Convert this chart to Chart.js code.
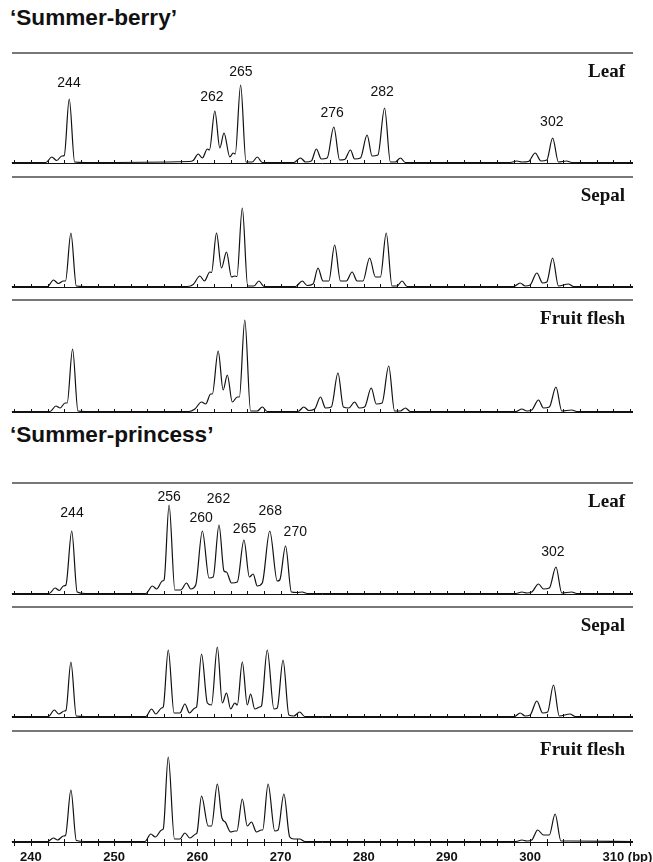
<!DOCTYPE html>
<html><head><meta charset="utf-8">
<script src="https://cdn.jsdelivr.net/npm/chart.js@4.4.1/dist/chart.umd.min.js"></script>
<style>
html,body{margin:0;padding:0;background:#fff;}
#wrap{position:relative;width:653px;height:862px;overflow:hidden;background:#fff;}
.title{position:absolute;left:10px;font:bold 22.6px "Liberation Sans",Arial,sans-serif;color:#111;line-height:26px;white-space:nowrap;}
canvas{position:absolute;left:0;}
</style></head><body>
<div id="wrap">
<div class="title" style="top:5px">‘Summer-berry’</div>
<div class="title" style="top:422px">‘Summer-princess’</div>
</div>
<script>
// ---- data: [size (bp), signal] ----
const berryLeaf = [[237.7,0.5],[241.8,0.5],[242.5,6],[243.1,2.5],[243.7,7],[244.0,7.5],[244.6,64],[245.25,1],[246.5,0.5],
 [259.0,1.5],[259.5,2.5],[260.1,9],[260.6,5],[261.2,14],[261.45,13],[262.1,52],[262.7,15],[263.2,30],[263.9,6],[264.3,10],[264.55,9],[265.2,78],[265.85,1],[266.6,1],[267.2,6],[267.8,0.5],
 [271.6,0.5],[272.4,5],[273.0,1],[273.7,2],[274.3,14],[274.9,4],[275.6,5],[276.4,36],[277.1,3],[277.7,3.5],[278.4,13],[278.9,4],[279.6,5],[280.4,28],[281.0,7],[281.7,8],[282.5,55],[283.2,1],[283.8,1],[284.4,5],[285.0,0.5],
 [297.6,0.5],[298.4,2],[299.0,1],[299.8,1.5],[300.6,10],[301.3,2],[302.0,3],[302.7,25],[303.4,1],[304.4,2],[305.0,0.5],[312.36,0.5]];
const berrySepal = [[237.7,0.5],[242.0,0.5],[242.7,7],[243.3,3.5],[243.9,6],[244.15,6],[244.8,54],[245.45,1],[246.5,0.5],
 [258.8,0.5],[259.5,2.5],[260.3,11],[260.85,6],[261.5,15],[261.7,14.5],[262.3,54],[262.9,19],[263.5,35],[264.1,10],[264.5,11],[264.75,10.5],[265.4,79],[266.05,1],[266.8,1],[267.4,6],[268.0,0.5],
 [271.8,0.5],[272.6,6],[273.2,1.5],[273.9,3],[274.5,19],[275.1,6],[275.8,6],[276.5,42],[277.2,6],[277.9,6],[278.6,15],[279.2,6],[279.9,6],[280.7,29],[281.4,10],[282.0,10],[282.7,54],[283.4,1],[284.0,1],[284.6,6],[285.2,0.5],
 [298.0,0.5],[298.8,4],[299.4,1],[300.0,2],[300.8,14],[301.5,4],[302.0,5],[302.7,29],[303.4,1],[304.6,3],[305.2,0.5],[312.36,0.5]];
const berryFruit = [[237.7,0.5],[242.3,0.5],[243.0,6],[243.5,4],[244.1,9],[244.35,9],[245.0,63],[245.65,1],[246.5,0.5],
 [259.0,0.5],[259.7,3],[260.5,10],[261.0,8],[261.6,18],[261.8,18],[262.5,61],[263.1,22],[263.6,37],[264.2,10],[264.8,15],[265.05,15],[265.7,92],[266.4,1],[267.2,1],[267.8,5],[268.4,0.5],
 [272.1,0.5],[272.8,5],[273.4,1.5],[274.1,3],[274.8,15],[275.4,4],[276.1,5],[276.9,39],[277.55,5],[278.2,4],[278.9,10],[279.45,4],[280.1,5],[280.9,24],[281.5,8],[282.2,9],[283.0,46],[283.7,1],[284.4,1],[285.0,4],[285.6,0.5],
 [298.3,0.5],[299.0,3],[299.6,1],[300.2,2],[301.0,12],[301.6,4],[302.3,5],[303.1,25],[303.8,1],[305.0,2],[305.6,0.5],[312.36,0.5]];
const princessLeaf = [[237.7,0.5],[242.2,0.5],[242.9,6],[243.4,3.5],[243.9,8],[244.2,9],[244.9,63],[245.55,2],[246.5,0.5],
 [253.8,0.5],[254.6,8],[255.1,5],[255.8,13],[256.0,14],[256.6,89],[257.3,4],[258.0,4],[258.7,11],[259.2,5],[259.8,9],[260.6,63],[261.4,16],[261.9,17],[262.6,69],[263.2,23],[263.5,22],[264.1,11],[264.8,12],[265.6,54],[266.25,17],[266.7,20],[267.2,8],[267.8,11],[268.7,63],[269.6,13],[269.9,14],[270.6,48],[271.3,2],[272.0,1.5],[272.6,2],[273.2,0.5],
 [298.3,0.5],[299.0,2],[299.6,1],[300.2,2],[301.0,10],[301.6,5],[302.3,6],[303.1,27],[303.8,1],[305.0,2],[305.6,0.5],[312.36,0.5]];
const princessSepal = [[237.7,0.5],[242.1,0.5],[242.8,7],[243.35,3],[244.0,6],[244.2,6.5],[244.8,55],[245.45,1],[246.5,0.5],
 [253.8,0.5],[254.5,8],[255.0,3],[255.7,9],[255.9,10],[256.5,67],[257.2,4],[257.9,4],[258.5,13],[259.05,4],[259.7,9],[259.9,10],[260.5,63],[261.2,14],[261.7,12],[262.4,70],[263.0,14],[263.5,24],[264.0,8],[264.5,14],[264.8,12],[265.4,55],[266.0,12],[266.4,23],[266.9,8],[267.5,10],[267.7,11],[268.4,67],[269.2,8],[269.6,9],[270.3,57],[271.0,2],[271.6,1],[272.3,5],[272.9,0.5],
 [298.1,0.5],[298.8,4],[299.4,1],[300.0,2],[300.8,16],[301.5,4],[302.1,5],[302.8,32],[303.5,1],[304.8,3],[305.4,0.5],[312.36,0.5]];
const princessFruit = [[237.7,0.5],[242.0,0.5],[242.7,4],[243.2,2],[243.9,6],[244.15,6.5],[244.8,52],[245.45,1.5],[246.5,0.5],
 [253.7,0.5],[254.4,8],[254.95,5],[255.7,12],[255.9,13],[256.5,85],[257.25,3],[257.9,3],[258.5,9],[259.1,4],[259.8,8],[259.95,9],[260.5,46],[261.3,16],[261.7,16],[262.4,58],[262.95,24],[263.35,20],[264.0,10],[264.5,11],[264.75,11],[265.4,43],[266.0,16],[266.5,20],[267.1,10],[267.7,12],[267.85,12],[268.5,58],[269.3,11],[269.7,12],[270.4,48],[271.1,5],[271.6,3],[272.3,3],[272.9,0.5],
 [298.3,0.5],[299.0,2],[299.6,1],[300.2,2],[300.9,12],[301.6,7],[302.3,7],[303.0,28],[303.7,1],[305.0,1],[312.36,0.5]];

// peak size labels: text, anchor size (bp), anchor signal
const berryLabels   = ['244','262','265','276','282','302'];
const berryLabelBp  = [244.57,261.75,265.23,276.2,282.2,302.6];
const berryLabelY   = [80,66,91,50,71,41];
const princessLabels  = ['244','256','260','262','265','268','270','302'];
const princessLabelBp = [244.93,256.6,260.46,262.54,265.67,268.76,271.77,302.73];
const princessLabelY  = [80.7,96.7,76.3,94.7,65,83.3,62.3,42.3];

const tissueNames = ['Leaf','Sepal','Fruit flesh'];
const axisTickLabels = [240,250,260,270,280,290,300,310];
const X_MIN = 237.72, X_MAX = 312.36;

const panels = [
 {top:53,  base:163, name:tissueNames[0], trace:berryLeaf, lab:berryLabels, labBp:berryLabelBp, labY:berryLabelY},
 {top:177, base:287, name:tissueNames[1], trace:berrySepal},
 {top:300, base:412, name:tissueNames[2], trace:berryFruit},
 {top:483, base:594, name:tissueNames[0], trace:princessLeaf, lab:princessLabels, labBp:princessLabelBp, labY:princessLabelY},
 {top:607, base:717, name:tissueNames[1], trace:princessSepal},
 {top:731, base:842, name:tissueNames[2], trace:princessFruit}
];

function deco(p, last){
  return {id:'deco', beforeDatasetsDraw(chart){
    const ctx = chart.ctx, a = chart.chartArea, x = chart.scales.x, y = chart.scales.y;
    ctx.save();
    // top rule
    ctx.strokeStyle = '#4a4a4a'; ctx.lineWidth = 1.4;
    ctx.beginPath(); ctx.moveTo(a.left, a.top); ctx.lineTo(a.right, a.top); ctx.stroke();
    // baseline
    const by = Math.round(y.getPixelForValue(0)) + 0.5;
    ctx.strokeStyle = '#111'; ctx.lineWidth = 1;
    ctx.beginPath(); ctx.moveTo(a.left, by); ctx.lineTo(a.right, by);
    for (let v = Math.ceil(x.min/2)*2; v <= x.max; v += 2){
      const px = Math.round(x.getPixelForValue(v)) + 0.5;
      ctx.moveTo(px, by - 3.5); ctx.lineTo(px, last ? by + 3.5 : by);
    }
    ctx.stroke();
    // tissue name
    ctx.fillStyle = '#111';
    ctx.font = 'bold 19px "Liberation Serif", "Times New Roman", serif';
    ctx.textAlign = 'right'; ctx.textBaseline = 'middle';
    ctx.fillText(p.name, 625, a.top + 19);
    // peak labels
    if (p.lab){
      ctx.font = '14px "Liberation Sans", Arial, sans-serif';
      ctx.textAlign = 'center';
      p.lab.forEach((t,i)=> ctx.fillText(t, x.getPixelForValue(p.labBp[i]), y.getPixelForValue(p.labY[i])));
    }
    // bottom axis labels
    if (last){
      ctx.font = 'bold 13px "Liberation Sans", Arial, sans-serif';
      ctx.textBaseline = 'middle';
      axisTickLabels.forEach((v,i)=>{
        const px = x.getPixelForValue(v);
        if (i === axisTickLabels.length-1){
          const w = ctx.measureText(String(v)).width;
          ctx.textAlign = 'left';
          ctx.fillText(v + ' (bp)', px - w/2, by + 14.5);
        } else {
          ctx.textAlign = 'center';
          ctx.fillText(String(v), px, by + 14.5);
        }
      });
    }
    ctx.restore();
  }};
}

const wrap = document.getElementById('wrap');
panels.forEach((p,i)=>{
  const last = i === panels.length - 1;
  const padTop = 4, padBottom = last ? 862 - p.base : 5;
  const h = (p.base - p.top) + padTop + padBottom;
  const cv = document.createElement('canvas');
  cv.width = 653; cv.height = h;
  cv.style.width = '653px'; cv.style.height = h + 'px'; cv.style.top = (p.top - padTop) + 'px';
  wrap.appendChild(cv);
  new Chart(cv, {
    type: 'line',
    data: {datasets: [{
      data: p.trace.map(d => ({x: d[0], y: d[1]})),
      borderColor: '#111', borderWidth: 1.2, pointRadius: 0, fill: false,
      cubicInterpolationMode: 'monotone', clip: 6
    }]},
    options: {
      responsive: false, devicePixelRatio: 1, animation: false, events: [],
      layout: {padding: {left: 12, right: 20, top: padTop, bottom: padBottom}},
      scales: {
        x: {type: 'linear', min: X_MIN, max: X_MAX, display: false},
        y: {min: 0, max: p.base - p.top, display: false}
      },
      plugins: {legend: {display: false}, tooltip: {enabled: false}}
    },
    plugins: [deco(p, last)]
  });
});
</script>
</body></html>
